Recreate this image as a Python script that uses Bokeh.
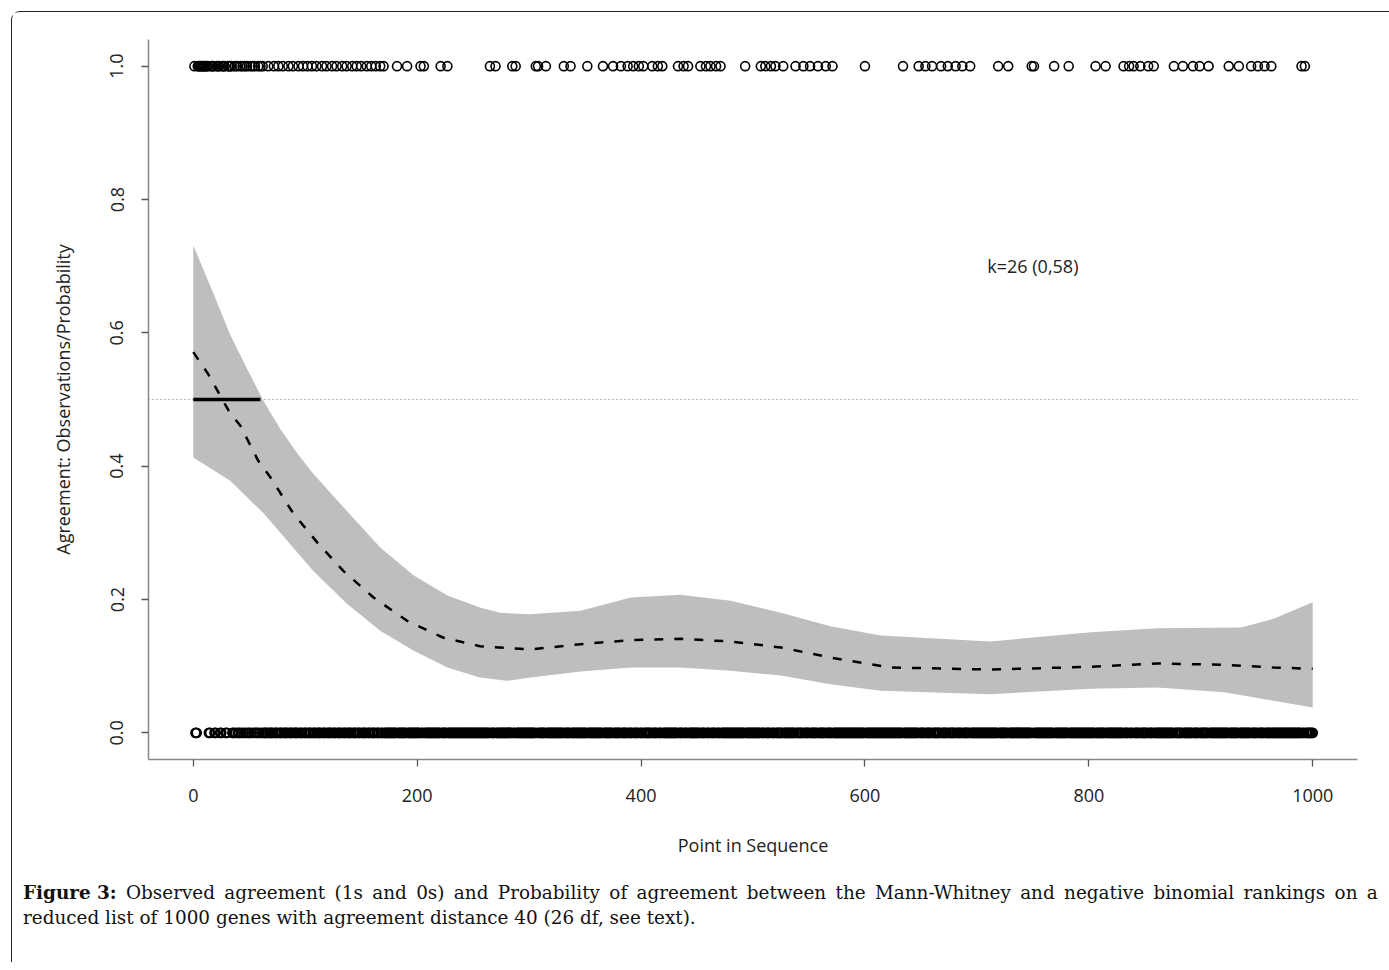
from bokeh.plotting import figure
from bokeh.models import Span, Label, Div, FixedTicker, NumeralTickFormatter
from bokeh.layouts import column
from bokeh.embed import file_html
from bokeh.resources import INLINE

# ---------------- data ----------------
# positions in the sequence where agreement was observed (value 1)
ones_x = [1, 4, 5, 6, 7, 8, 9, 10, 11, 12, 13, 16, 17, 18, 21, 22, 23, 26, 27, 28,
          31, 32, 33, 34, 37, 39, 42, 44, 46, 48, 51, 53, 55, 58, 60, 62,
          67, 72, 76, 80, 85, 89, 94, 98, 102, 106, 110, 115, 119, 124, 128, 133,
          137, 142, 146, 150, 155, 159, 163, 167, 170,
          182, 191, 203, 206, 221, 227,
          265, 270, 285, 288, 306, 308, 315, 331, 337, 352, 366, 375, 382, 388, 393,
          398, 402, 410, 415, 419, 433, 438, 442, 453, 458, 462, 467, 471, 493,
          507, 511, 516, 520, 527, 538, 545, 551, 558, 565, 571, 600, 634,
          648, 654, 660, 668, 674, 681, 687, 694, 719, 728, 749, 751, 769, 782,
          806, 815, 831, 836, 840, 846, 853, 858, 876, 884, 893, 899, 907,
          925, 934, 945, 951, 957, 963, 990, 993]
n_points = 1000
# every other point of the sequence is an observed disagreement (value 0)
_ones_set = set(ones_x)
zeros_x = [i for i in range(1, n_points + 1) if i not in _ones_set]
ones_y = [1] * len(ones_x)
zeros_y = [0] * len(zeros_x)

# fitted probability (dashed curve)
fit_x = [0, 13, 33, 42, 58, 69, 89, 111, 134, 161, 191, 223, 256, 301, 346, 391,
         435, 480, 525, 569, 623, 712, 802, 861, 921, 965, 1000]
fit_y = [0.571, 0.539, 0.479, 0.461, 0.408, 0.383, 0.330, 0.285, 0.243, 0.203,
         0.168, 0.143, 0.130, 0.125, 0.133, 0.139, 0.141, 0.137, 0.128, 0.113,
         0.098, 0.095, 0.099, 0.104, 0.102, 0.098, 0.096]

# confidence band, upper edge
upper_x = [0, 18, 33, 48, 63, 78, 93, 107, 137, 167, 197, 227, 256, 274, 301, 346,
           391, 435, 480, 525, 569, 614, 712, 802, 861, 936, 965, 1000]
upper_y = [0.731, 0.659, 0.597, 0.546, 0.497, 0.455, 0.419, 0.389, 0.333, 0.278,
           0.236, 0.206, 0.188, 0.180, 0.178, 0.183, 0.203, 0.207, 0.198, 0.180,
           0.160, 0.146, 0.137, 0.151, 0.157, 0.158, 0.171, 0.196]
# confidence band, lower edge
lower_x = [0, 33, 63, 107, 137, 167, 197, 227, 256, 280, 301, 346, 391, 435, 480,
           525, 569, 614, 712, 802, 861, 921, 965, 1000]
lower_y = [0.413, 0.378, 0.329, 0.243, 0.194, 0.153, 0.123, 0.098, 0.083, 0.078,
           0.083, 0.092, 0.098, 0.098, 0.093, 0.086, 0.073, 0.063, 0.058, 0.066,
           0.068, 0.061, 0.048, 0.038]

# reference level and agreement segment
ref_level = 0.5
segment_x = [0, 60]
segment_y = [0.5, 0.5]

annot_text = "k=26 (0,58)"
annot_x = 750
annot_y = 0.70

x_ticks = [0, 200, 400, 600, 800, 1000]
y_ticks = [0.0, 0.2, 0.4, 0.6, 0.8, 1.0]

x_label = "Point in Sequence"
y_label = "Agreement: Observations/Probability"

caption_bold = "Figure 3:"
caption_line1 = ("Observed agreement (1s and 0s) and Probability of agreement "
                 "between the Mann-Whitney and negative binomial rankings on a")
caption_line2 = "reduced list of 1000 genes with agreement distance 40 (26 df, see text)."

# ---------------- figure ----------------
FONT = "Open Sans"

p = figure(output_backend="svg", toolbar_location=None,
           frame_width=1209, frame_height=720,
           x_range=(-40, 1040), y_range=(-0.04, 1.04),
           min_border_left=136, min_border_right=30,
           min_border_top=27, min_border_bottom=103,
           background_fill_color="white", border_fill_color="white")
p.grid.visible = False
p.outline_line_color = None

# reference line (below the glyphs)
p.add_layout(Span(location=ref_level, dimension="width", line_color="#777777",
                  line_width=1, line_dash="1 3", level="underlay"))

# band
band_xs = upper_x + lower_x[::-1]
band_ys = upper_y + lower_y[::-1]
p.patch(band_xs, band_ys, fill_color="#BEBEBE", line_color=None)

p.line(segment_x, segment_y, line_color="black", line_width=3.5)

# fitted curve
p.line(fit_x, fit_y, line_color="black", line_width=2.5, line_dash="9 11")

# observations
p.scatter(zeros_x, zeros_y, marker="circle", size=9, fill_color=None,
          line_color="black", line_width=1.8)
p.scatter(ones_x, ones_y, marker="circle", size=9, fill_color=None,
          line_color="black", line_width=1.6)

p.add_layout(Label(x=annot_x, y=annot_y, text=annot_text, text_align="center",
                   text_baseline="middle", text_font=FONT,
                   text_font_size="18px", text_color="#222222"))

# axes
for ax in (p.xaxis[0], p.yaxis[0]):
    ax.axis_line_color = "#888888"
    ax.axis_line_width = 1.5
    ax.major_tick_line_color = "#555555"
    ax.major_tick_line_width = 1.3
    ax.major_tick_out = 7
    ax.major_tick_in = 0
    ax.minor_tick_line_color = None
    ax.major_label_text_font = FONT
    ax.major_label_text_font_size = "18px"
    ax.major_label_text_color = "#222222"
    ax.axis_label_text_font = FONT
    ax.axis_label_text_font_size = "18px"
    ax.axis_label_text_font_style = "normal"
    ax.axis_label_text_color = "#222222"

p.xaxis.ticker = FixedTicker(ticks=x_ticks)
p.yaxis.ticker = FixedTicker(ticks=y_ticks)
p.yaxis.formatter = NumeralTickFormatter(format="0.0")
p.yaxis.major_label_orientation = "vertical"
p.xaxis.major_label_standoff = 22
p.yaxis.major_label_standoff = 18
p.xaxis.axis_label_standoff = 28
p.yaxis.axis_label_standoff = 33
p.xaxis.axis_label = x_label
p.yaxis.axis_label = y_label

# caption: first line fully justified (word by word), second line left aligned
_words = "".join(f"<span>{w}</span>" for w in caption_line1.split(" "))
caption_html = (
    "<div style=\"font-family:'DejaVu Serif',serif;font-size:18.4px;line-height:25px;"
    "color:#111;padding:13px 0 0 6px;width:1355px;box-sizing:content-box;overflow:hidden;\">"
    "<div style=\"display:flex;justify-content:space-between;width:1355px;white-space:nowrap;\">"
    f"<span><b>{caption_bold}</b></span>{_words}</div>"
    f"<div style=\"text-align:left;white-space:nowrap;\">{caption_line2}</div>"
    "</div>"
)
caption = Div(text=caption_html, width=1370, height=90)

layout = column(p, caption, margin=(11, 0, 0, 11), spacing=0,
                styles={"border-left": "1.5px solid #222",
                        "border-top": "1.5px solid #222",
                        "border-top-left-radius": "9px",
                        "background": "white"})

open("out.html", "w").write(file_html(layout, INLINE))
